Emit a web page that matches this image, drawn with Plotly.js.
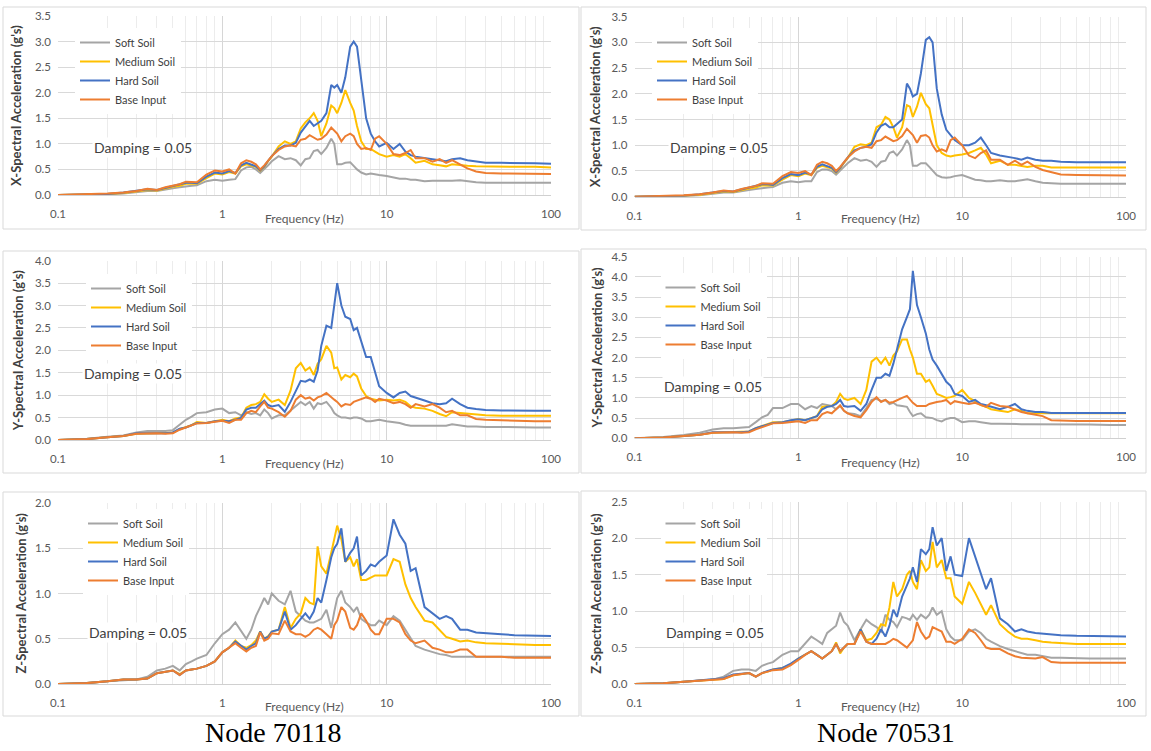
<!DOCTYPE html>
<html><head><meta charset="utf-8">
<script src="https://cdn.plot.ly/plotly-3.0.1.min.js"></script>
<style>html,body{margin:0;padding:0;background:#fff;}#chart{width:1151px;height:751px;}</style>
</head><body><div id="chart"></div>
<script>
// ---------- data ----------
const freqHz = [0.1,0.15,0.2,0.25,0.3,0.35,0.4,0.45,0.5,0.55,
 0.6,0.65,0.7,0.8,0.9,1.0,1.1,1.2,1.3,1.4,
 1.5,1.6,1.7,1.8,1.9,2.0,2.2,2.4,2.6,2.8,
 3.0,3.2,3.4,3.6,3.8,4.0,4.3,4.6,4.8,5.0,
 5.3,5.6,6.0,6.3,6.6,7.0,7.5,8.0,8.5,9.0,
 10,11,12,13,14,15,17,19,21,23,
 25,28,31,35,40,50,60,80,100];
const seriesNames = ['Soft Soil','Medium Soil','Hard Soil','Base Input'];
const nodeLabels = ['Node 70118','Node 70531'];
const xTickVals = [0.1,1,10,100];
const xTickText = ['0.1','1','10','100'];
const minorGridVals = [0.2,0.3,0.4,0.5,0.6,0.7,0.8,0.9,2,3,4,5,6,7,8,9,20,30,40,50,60,70,80,90];
const yAxisTitles = ["X-Spectral Acceleration (g's)","Y-Spectral Acceleration (g's)","Z-Spectral Acceleration (g's)"];
const yAxisMax = [3.5,3.5,4.0,4.5,2.0,2.5];
const xAxisTitle = 'Frequency (Hz)';
const dampingText = 'Damping = 0.05';

// X direction, Node 70118
const x118Soft = [0,0,0.01,0.03,0.05,0.08,0.08,0.1,0.13,0.15,
 0.17,0.18,0.19,0.27,0.3,0.28,0.3,0.31,0.48,0.54,
 0.55,0.5,0.43,0.5,0.58,0.66,0.76,0.7,0.72,0.68,
 0.58,0.7,0.72,0.86,0.88,0.8,0.92,1.1,1.0,0.6,
 0.6,0.63,0.64,0.57,0.5,0.44,0.4,0.42,0.4,0.39,
 0.37,0.34,0.32,0.32,0.3,0.3,0.27,0.28,0.28,0.27,
 0.28,0.29,0.27,0.25,0.24,0.24,0.24,0.24,0.24];
const x118Medium = [0,0.01,0.02,0.04,0.07,0.1,0.09,0.13,0.16,0.18,
 0.22,0.22,0.22,0.33,0.42,0.4,0.45,0.42,0.56,0.6,
 0.58,0.55,0.47,0.55,0.66,0.75,0.95,1.05,1.0,1.05,
 1.3,1.42,1.5,1.6,1.45,1.15,1.4,1.75,1.7,1.6,
 1.8,2.05,1.8,1.65,1.35,1.05,0.9,0.9,0.85,0.8,
 0.75,0.78,0.75,0.8,0.72,0.63,0.67,0.6,0.58,0.56,
 0.6,0.58,0.57,0.56,0.56,0.55,0.55,0.55,0.54];
const x118Hard = [0,0.01,0.02,0.05,0.08,0.11,0.1,0.14,0.18,0.2,
 0.24,0.24,0.23,0.36,0.44,0.42,0.47,0.43,0.58,0.63,
 0.6,0.56,0.48,0.56,0.67,0.76,0.9,0.97,0.97,1.02,
 1.22,1.35,1.45,1.35,1.4,1.45,1.6,2.15,2.1,2.15,
 2.0,2.3,2.9,3.0,2.9,2.2,1.5,1.2,1.05,0.95,
 1.02,0.9,1.0,0.85,0.78,0.75,0.73,0.7,0.68,0.66,
 0.7,0.72,0.68,0.65,0.63,0.63,0.63,0.62,0.61];
const x118Base = [0,0.01,0.03,0.05,0.08,0.12,0.1,0.15,0.18,0.21,
 0.26,0.25,0.25,0.4,0.48,0.46,0.5,0.42,0.62,0.68,
 0.65,0.6,0.5,0.58,0.68,0.76,0.88,0.95,0.97,0.95,
 1.08,1.1,1.17,1.12,1.08,1.1,1.18,1.32,1.25,1.2,
 1.05,1.15,1.2,1.15,1.0,0.9,0.92,0.88,1.1,1.15,
 1.0,0.8,0.78,0.82,0.88,0.72,0.72,0.65,0.7,0.63,
 0.68,0.6,0.52,0.46,0.43,0.42,0.42,0.41,0.41];

// X direction, Node 70531
const x531Soft = [0,0,0.01,0.03,0.05,0.08,0.08,0.1,0.13,0.15,
 0.17,0.18,0.19,0.27,0.3,0.28,0.3,0.3,0.48,0.53,
 0.53,0.5,0.43,0.5,0.58,0.65,0.75,0.7,0.72,0.68,
 0.58,0.68,0.7,0.85,0.88,0.8,0.92,1.1,1.0,0.6,
 0.6,0.65,0.65,0.58,0.5,0.42,0.38,0.37,0.38,0.4,
 0.42,0.37,0.33,0.32,0.3,0.3,0.32,0.3,0.3,0.32,
 0.34,0.3,0.27,0.26,0.25,0.25,0.25,0.25,0.25];
const x531Medium = [0,0.01,0.02,0.04,0.07,0.1,0.09,0.13,0.16,0.18,
 0.22,0.22,0.22,0.33,0.42,0.4,0.45,0.42,0.56,0.6,
 0.58,0.55,0.47,0.55,0.66,0.75,0.97,1.02,1.0,1.05,
 1.35,1.4,1.55,1.5,1.35,1.15,1.35,1.78,1.75,1.55,
 1.75,2.02,1.8,1.72,1.4,1.0,0.85,0.8,0.78,0.8,
 0.82,0.85,0.9,0.95,0.82,0.65,0.7,0.62,0.62,0.6,
 0.58,0.6,0.6,0.57,0.57,0.57,0.57,0.57,0.57];
const x531Hard = [0,0.01,0.02,0.05,0.08,0.11,0.1,0.14,0.18,0.2,
 0.24,0.24,0.23,0.36,0.44,0.42,0.47,0.43,0.58,0.63,
 0.6,0.56,0.48,0.56,0.67,0.76,0.9,0.95,0.97,1.02,
 1.25,1.38,1.42,1.35,1.35,1.42,1.5,2.2,2.1,1.95,
 2.0,2.4,3.05,3.1,3.0,2.1,1.6,1.3,1.2,1.1,
 1.0,1.0,1.05,1.15,1.0,0.85,0.8,0.78,0.75,0.72,
 0.76,0.72,0.7,0.7,0.68,0.67,0.67,0.67,0.67];
const x531Base = [0,0.01,0.03,0.05,0.08,0.12,0.1,0.15,0.18,0.21,
 0.26,0.25,0.25,0.4,0.48,0.46,0.5,0.42,0.62,0.68,
 0.65,0.6,0.5,0.58,0.68,0.76,0.88,0.95,0.97,0.95,
 1.08,1.1,1.17,1.12,1.08,1.1,1.18,1.32,1.25,1.2,
 1.05,1.18,1.2,1.15,1.0,0.88,0.92,0.88,1.1,1.15,
 1.0,0.8,0.75,0.85,0.9,0.72,0.72,0.62,0.7,0.62,
 0.68,0.58,0.52,0.47,0.43,0.42,0.42,0.41,0.41];

// Y direction, Node 70118
const y118Soft = [0,0.03,0.07,0.1,0.17,0.2,0.2,0.2,0.22,0.35,
 0.45,0.52,0.6,0.62,0.68,0.7,0.6,0.62,0.55,0.62,
 0.58,0.6,0.55,0.68,0.6,0.48,0.55,0.55,0.65,0.75,
 0.85,0.78,0.85,0.7,0.82,0.8,0.85,0.72,0.6,0.55,
 0.5,0.5,0.48,0.5,0.5,0.48,0.42,0.42,0.44,0.45,
 0.42,0.4,0.38,0.34,0.32,0.32,0.32,0.32,0.33,0.32,
 0.35,0.32,0.3,0.3,0.29,0.29,0.28,0.28,0.28];
const y118Medium = [0,0.02,0.06,0.09,0.14,0.15,0.15,0.15,0.16,0.24,
 0.28,0.33,0.4,0.38,0.42,0.45,0.42,0.48,0.5,0.72,
 0.78,0.8,0.85,1.02,0.92,0.85,0.9,0.78,1.1,1.6,
 1.72,1.55,1.62,1.45,1.7,1.8,2.1,1.95,1.6,1.62,
 1.35,1.45,1.4,1.48,1.42,1.15,0.98,0.92,0.9,0.88,
 0.9,0.88,0.9,0.85,0.75,0.72,0.7,0.65,0.58,0.53,
 0.62,0.6,0.58,0.57,0.55,0.54,0.54,0.54,0.54];
const y118Hard = [0,0.02,0.06,0.09,0.15,0.15,0.15,0.15,0.17,0.25,
 0.28,0.33,0.38,0.38,0.42,0.43,0.42,0.45,0.5,0.68,
 0.72,0.72,0.8,0.88,0.78,0.75,0.78,0.63,0.85,1.1,
 1.32,1.3,1.35,1.3,1.55,2.1,2.55,2.5,3.0,3.5,
 3.0,2.75,2.7,2.45,2.5,2.2,1.85,1.85,1.5,1.2,
 1.05,0.95,1.05,1.08,0.98,0.95,0.88,0.82,0.8,0.82,
 0.92,0.8,0.72,0.69,0.67,0.66,0.65,0.65,0.65];
const y118Base = [0,0.02,0.06,0.09,0.14,0.15,0.15,0.14,0.15,0.23,
 0.28,0.32,0.37,0.38,0.4,0.43,0.38,0.45,0.45,0.6,
 0.65,0.62,0.75,0.85,0.72,0.7,0.62,0.52,0.65,0.9,
 1.0,0.92,0.95,0.88,0.95,0.98,1.05,0.95,0.9,0.85,
 0.75,0.8,0.78,0.85,0.88,0.92,0.95,0.92,0.85,0.92,
 0.88,0.82,0.85,0.8,0.72,0.8,0.75,0.8,0.72,0.62,
 0.65,0.55,0.55,0.47,0.45,0.44,0.43,0.42,0.42];

// Y direction, Node 70531
const y531Soft = [0,0.03,0.08,0.14,0.22,0.25,0.25,0.26,0.28,0.4,
 0.52,0.58,0.75,0.75,0.85,0.85,0.72,0.8,0.75,0.85,
 0.82,0.8,0.72,0.8,0.68,0.62,0.6,0.55,0.75,0.95,
 0.98,0.92,0.95,0.85,0.88,0.82,0.8,0.78,0.65,0.55,
 0.6,0.62,0.52,0.5,0.5,0.45,0.42,0.48,0.5,0.5,
 0.4,0.42,0.42,0.4,0.38,0.36,0.36,0.35,0.35,0.35,
 0.35,0.35,0.35,0.35,0.35,0.34,0.34,0.33,0.33];
const y531Medium = [0,0.02,0.06,0.09,0.14,0.15,0.15,0.15,0.17,0.25,
 0.3,0.35,0.4,0.4,0.45,0.48,0.45,0.5,0.55,0.78,
 0.8,0.8,0.9,1.1,0.98,0.95,1.0,0.85,1.2,1.9,
 2.0,1.85,2.0,1.8,2.05,2.15,2.45,2.45,2.2,2.0,
 1.6,1.6,1.4,1.45,1.3,1.1,1.05,1.0,1.02,1.05,
 1.2,1.0,0.92,0.82,0.78,0.72,0.68,0.65,0.72,0.68,
 0.62,0.62,0.62,0.62,0.62,0.62,0.62,0.62,0.62];
const y531Hard = [0,0.02,0.06,0.09,0.15,0.15,0.15,0.15,0.17,0.25,
 0.3,0.34,0.38,0.4,0.45,0.47,0.45,0.5,0.55,0.72,
 0.78,0.8,0.85,0.95,0.8,0.78,0.8,0.68,0.85,1.2,
 1.5,1.5,1.6,1.55,1.85,2.2,2.7,3.0,3.2,4.15,
 3.3,3.0,2.6,2.2,1.95,1.8,1.6,1.4,1.3,1.1,
 1.05,0.9,0.95,0.85,0.82,0.78,0.72,0.78,0.85,0.72,
 0.68,0.65,0.65,0.63,0.63,0.63,0.63,0.63,0.63];
const y531Base = [0,0.02,0.06,0.09,0.14,0.15,0.15,0.14,0.15,0.22,
 0.28,0.32,0.37,0.38,0.4,0.42,0.38,0.45,0.45,0.6,
 0.65,0.62,0.72,0.82,0.68,0.62,0.55,0.52,0.7,0.9,
 1.02,0.9,0.95,0.88,0.9,0.95,1.0,1.05,0.95,0.88,
 0.8,0.8,0.8,0.85,0.88,0.9,0.92,0.95,0.85,0.92,
 0.88,0.85,0.88,0.82,0.78,0.88,0.8,0.78,0.72,0.65,
 0.62,0.58,0.55,0.45,0.44,0.43,0.43,0.43,0.43];

// Z direction, Node 70118
const z118Soft = [0,0.01,0.03,0.04,0.05,0.08,0.15,0.17,0.2,0.15,
 0.22,0.25,0.28,0.32,0.45,0.55,0.6,0.68,0.58,0.5,
 0.6,0.75,0.85,0.95,0.88,1.0,0.92,0.88,1.03,0.8,
 0.75,0.7,0.68,0.68,0.7,0.72,0.82,0.62,0.8,0.95,
 1.03,0.9,0.85,0.8,0.85,0.72,0.68,0.65,0.65,0.7,
 0.65,0.75,0.7,0.6,0.5,0.42,0.38,0.35,0.33,0.32,
 0.3,0.3,0.3,0.3,0.3,0.3,0.3,0.3,0.3];
const z118Medium = [0,0.01,0.03,0.05,0.05,0.06,0.12,0.14,0.15,0.11,
 0.15,0.16,0.17,0.2,0.25,0.35,0.4,0.48,0.42,0.4,
 0.43,0.48,0.58,0.5,0.53,0.58,0.6,0.85,0.62,0.72,
 0.78,0.95,0.9,0.88,1.52,1.3,1.22,1.45,1.6,1.75,
 1.6,1.35,1.4,1.3,1.38,1.15,1.15,1.18,1.2,1.2,
 1.2,1.38,1.35,1.1,0.95,0.85,0.7,0.68,0.6,0.52,
 0.5,0.47,0.48,0.46,0.45,0.44,0.44,0.43,0.43];
const z118Hard = [0,0.01,0.03,0.05,0.05,0.06,0.12,0.14,0.15,0.1,
 0.15,0.16,0.17,0.2,0.25,0.35,0.4,0.47,0.42,0.38,
 0.42,0.45,0.58,0.5,0.52,0.58,0.6,0.8,0.6,0.65,
 0.72,0.78,0.72,0.8,0.95,0.9,1.15,1.4,1.5,1.55,
 1.72,1.35,1.45,1.5,1.63,1.2,1.25,1.32,1.3,1.35,
 1.42,1.82,1.65,1.55,1.25,1.28,0.85,0.78,0.72,0.75,
 0.72,0.6,0.6,0.57,0.56,0.55,0.54,0.53,0.53];
const z118Base = [0,0.01,0.03,0.05,0.05,0.06,0.12,0.14,0.15,0.1,
 0.15,0.16,0.17,0.2,0.25,0.35,0.4,0.45,0.4,0.36,
 0.4,0.42,0.57,0.48,0.5,0.56,0.55,0.7,0.58,0.55,
 0.55,0.52,0.55,0.6,0.62,0.6,0.55,0.5,0.65,0.7,
 0.85,0.8,0.62,0.6,0.65,0.78,0.7,0.6,0.55,0.55,
 0.72,0.72,0.68,0.55,0.48,0.45,0.48,0.4,0.38,0.35,
 0.35,0.38,0.38,0.3,0.3,0.3,0.29,0.29,0.29];

// Z direction, Node 70531
const z531Soft = [0,0.01,0.03,0.05,0.06,0.1,0.18,0.2,0.2,0.18,
 0.25,0.28,0.3,0.4,0.45,0.45,0.55,0.65,0.6,0.55,
 0.7,0.75,0.8,0.98,0.85,0.8,0.6,0.75,0.88,0.82,
 0.78,0.72,0.95,0.88,0.85,0.78,0.92,0.9,0.88,0.95,
 0.88,0.95,0.9,0.95,1.05,0.95,1.0,0.75,0.65,0.6,
 0.6,0.72,0.75,0.7,0.62,0.58,0.52,0.48,0.45,0.42,
 0.4,0.4,0.38,0.36,0.36,0.35,0.35,0.35,0.35];
const z531Medium = [0,0.01,0.03,0.05,0.06,0.07,0.12,0.14,0.15,0.1,
 0.15,0.17,0.2,0.22,0.27,0.35,0.4,0.45,0.4,0.35,
 0.4,0.45,0.57,0.42,0.5,0.55,0.55,0.75,0.6,0.62,
 0.7,0.82,0.8,1.05,1.4,1.2,1.3,1.5,1.55,1.4,
 1.3,1.7,1.55,1.6,1.95,1.6,1.7,1.45,1.45,1.2,
 1.1,1.4,1.25,1.1,0.95,1.08,0.82,0.72,0.65,0.62,
 0.62,0.6,0.58,0.57,0.56,0.55,0.55,0.55,0.55];
const z531Hard = [0,0.01,0.03,0.05,0.06,0.08,0.13,0.14,0.15,0.1,
 0.15,0.18,0.2,0.22,0.28,0.35,0.4,0.45,0.4,0.35,
 0.4,0.45,0.55,0.45,0.5,0.55,0.55,0.75,0.58,0.55,
 0.62,0.75,0.65,0.8,1.02,0.92,1.2,1.35,1.45,1.6,
 1.4,1.85,1.78,1.85,2.15,1.9,2.0,1.55,1.75,1.5,
 1.48,2.0,1.75,1.5,1.3,1.45,0.9,0.82,0.72,0.75,
 0.72,0.7,0.69,0.68,0.67,0.66,0.66,0.65,0.65];
const z531Base = [0,0.01,0.03,0.05,0.06,0.07,0.12,0.14,0.15,0.1,
 0.15,0.17,0.19,0.2,0.26,0.33,0.4,0.45,0.4,0.35,
 0.4,0.45,0.55,0.45,0.5,0.55,0.55,0.72,0.58,0.55,
 0.55,0.55,0.55,0.58,0.62,0.6,0.55,0.5,0.55,0.6,
 0.85,0.72,0.62,0.65,0.78,0.75,0.72,0.58,0.58,0.55,
 0.62,0.75,0.7,0.6,0.5,0.48,0.48,0.42,0.38,0.36,
 0.36,0.35,0.37,0.3,0.29,0.29,0.29,0.29,0.29];

// ---------- styling / layout (pixels of the 1151x751 page) ----------
const W = 1151, H = 751;
const px = v => v / W;
const py = v => 1 - v / H;
const seriesColors = ['#a5a5a5','#ffc000','#4472c4','#ed7d31'];
const FONT = 'Lato, "Open Sans", sans-serif';

const panelSpecs = [
  {data:[x118Soft,x118Medium,x118Hard,x118Base], ymax:yAxisMax[0], ytitle:yAxisTitles[0],
   plot:[58,551,16,195], box:[3,7,579,229], leg:[82,47], damp:[143,147], xt:[304,218], yt:16.6},
  {data:[x531Soft,x531Medium,x531Hard,x531Base], ymax:yAxisMax[1], ytitle:yAxisTitles[0],
   plot:[634.5,1126,16.7,196.7], box:[581,7,1146,230], leg:[659,47], damp:[719,147], xt:[880,218], yt:594.5},
  {data:[y118Soft,y118Medium,y118Hard,y118Base], ymax:yAxisMax[2], ytitle:yAxisTitles[1],
   plot:[58,551,260.7,440], box:[3,251,579,473], leg:[93,293], damp:[133,373], xt:[304,463], yt:18},
  {data:[y531Soft,y531Medium,y531Hard,y531Base], ymax:yAxisMax[3], ytitle:yAxisTitles[1],
   plot:[634.5,1126,256.7,438.3], box:[581,249,1146,473], leg:[667.5,292], damp:[713,387], xt:[880,462], yt:596},
  {data:[z118Soft,z118Medium,z118Hard,z118Base], ymax:yAxisMax[4], ytitle:yAxisTitles[2],
   plot:[58,551,503,684], box:[3,492,579,716], leg:[90,528], damp:[138,632], xt:[304,706], yt:20},
  {data:[z531Soft,z531Medium,z531Hard,z531Base], ymax:yAxisMax[5], ytitle:yAxisTitles[2],
   plot:[634.5,1126,501.7,684], box:[581,491,1146,716], leg:[667.5,528], damp:[715,632], xt:[880,706], yt:596}
];

const traces = [];
const layout = {
  width: W, height: H,
  margin: {l:0, r:0, t:0, b:0},
  paper_bgcolor: '#ffffff', plot_bgcolor: '#ffffff',
  font: {family: FONT, color: '#595959', size: 11},
  showlegend: true,
  shapes: [], annotations: []
};

panelSpecs.forEach((p, i) => {
  const n = i === 0 ? '' : String(i + 1);
  const xa = 'x' + n, ya = 'y' + n, lg = 'legend' + n;
  p.data.forEach((arr, j) => {
    traces.push({
      type: 'scatter', mode: 'lines', x: freqHz, y: arr,
      xaxis: xa, yaxis: ya, legend: lg, name: seriesNames[j],
      line: {color: seriesColors[j], width: 2}, hoverinfo: 'skip'
    });
  });
  layout['xaxis' + n] = {
    type: 'log', range: [-1, 2], anchor: ya,
    domain: [px(p.plot[0]), px(p.plot[1])],
    tickmode: 'array', tickvals: xTickVals, ticktext: xTickText,
    showgrid: true, gridcolor: '#d6d6d6', gridwidth: 1,
    minor: {tickmode: 'array', tickvals: minorGridVals, showgrid: true, gridcolor: '#ececec', gridwidth: 1, ticks: ''},
    ticks: '', showline: true, linecolor: '#d0d0d0', zeroline: false,
    tickfont: {family: FONT, size: 11.5, color: '#595959'},
    ticklabelstandoff: 8, fixedrange: true
  };
  layout['yaxis' + n] = {
    range: [0, p.ymax], anchor: xa,
    domain: [py(p.plot[3]), py(p.plot[2])],
    tick0: 0, dtick: 0.5, tickformat: '.1f',
    showgrid: true, gridcolor: '#d9d9d9', gridwidth: 1,
    zeroline: false, showline: false, ticks: '',
    tickfont: {family: FONT, size: 11.5, color: '#595959'},
    ticklabelstandoff: 6, fixedrange: true
  };
  layout[lg] = {
    x: px(p.leg[0] - 7), y: py(p.leg[1] - 19), xanchor: 'left', yanchor: 'top',
    bgcolor: '#ffffff', borderwidth: 0, tracegroupgap: 0,
    font: {family: FONT, size: 11, color: '#404040'}
  };
  layout.shapes.push({
    type: 'rect', xref: 'paper', yref: 'paper', layer: 'below',
    x0: px(p.box[0]), x1: px(p.box[2]), y0: py(p.box[3]), y1: py(p.box[1]),
    line: {color: '#d9d9d9', width: 1}, fillcolor: 'rgba(0,0,0,0)'
  });
  layout.annotations.push({
    xref: 'paper', yref: 'paper', x: px(p.damp[0]), y: py(p.damp[1]),
    text: dampingText, showarrow: false, xanchor: 'center', yanchor: 'middle',
    bgcolor: '#ffffff', font: {family: FONT, size: 14, color: '#404040'}
  });
  layout.annotations.push({
    xref: 'paper', yref: 'paper', x: px(p.xt[0]), y: py(p.xt[1]),
    text: xAxisTitle, showarrow: false, xanchor: 'center', yanchor: 'middle',
    font: {family: FONT, size: 12, color: '#595959'}
  });
  layout.annotations.push({
    xref: 'paper', yref: 'paper', x: px(p.yt), y: py((p.plot[2] + p.plot[3]) / 2),
    text: '<b>' + p.ytitle + '</b>', showarrow: false, textangle: -90, xanchor: 'center', yanchor: 'middle',
    font: {family: FONT, size: 13, color: '#404040'}
  });
});

nodeLabels.forEach((lbl, k) => {
  layout.annotations.push({
    xref: 'paper', yref: 'paper', x: px(k === 0 ? 273 : 886), y: py(750), text: lbl,
    showarrow: false, xanchor: 'center', yanchor: 'bottom',
    font: {family: '"Liberation Serif", "Times New Roman", serif', size: 28, color: '#000000'}
  });
});

Plotly.newPlot('chart', traces, layout, {staticPlot: true, displayModeBar: false});
</script>
</body></html>
